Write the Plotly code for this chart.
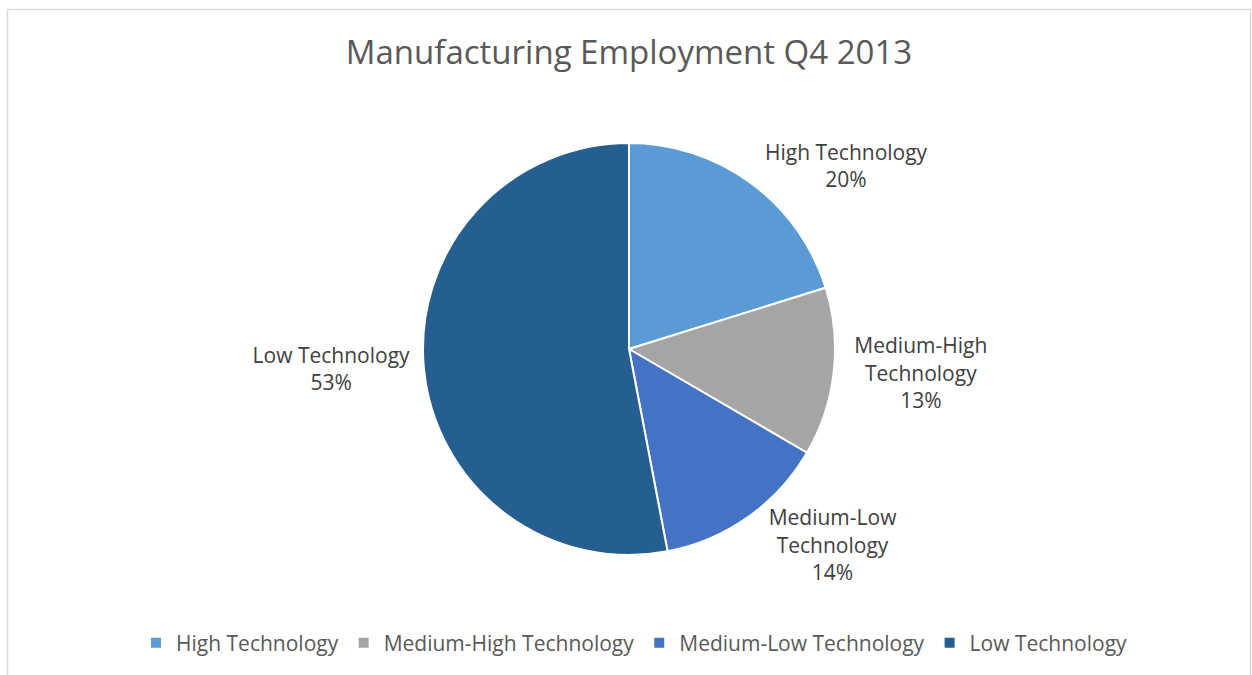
import plotly.graph_objects as go

categories = ["High Technology", "Medium-High Technology", "Medium-Low Technology", "Low Technology"]
slice_labels = ["High Technology", "Medium-High<br>Technology", "Medium-Low<br>Technology", "Low Technology"]
values = [20.2, 13.2, 13.6, 53.0]
colors = ["#5B9BD5", "#A5A5A5", "#4472C4", "#255E91"]

W, H = 1252, 675
cx, cy, r = 629, 349, 206

fig = go.Figure(go.Pie(
    labels=categories,
    values=values,
    customdata=slice_labels,
    sort=False,
    direction="clockwise",
    rotation=0,
    marker=dict(colors=colors, line=dict(color="white", width=2)),
    texttemplate="%{customdata}<br>%{percent:.0%}",
    textposition="outside",
    textfont=dict(family="Open Sans", size=21, color="#404040"),
    hoverinfo="label+percent",
    domain=dict(x=[(cx - r) / W, (cx + r) / W], y=[(H - cy - r) / H, (H - cy + r) / H]),
))

fig.update_layout(
    width=W, height=H,
    margin=dict(l=0, r=0, t=0, b=0),
    paper_bgcolor="white",
    plot_bgcolor="white",
    title=dict(text="Manufacturing Employment Q4 2013", x=cx / W, xanchor="center",
               y=1 - 52 / H, yanchor="middle", yref="container",
               font=dict(family="Open Sans", size=33, color="#595959")),
    legend=dict(orientation="h", x=634.5 / W, xanchor="center", y=(H - 643) / H, yanchor="middle",
                font=dict(family="Open Sans", size=21, color="#595959"),
                itemwidth=30, traceorder="normal"),
    shapes=[dict(type="rect", xref="paper", yref="paper",
                 x0=7.5 / W, x1=1250.5 / W, y0=-0.05, y1=1 - 9.5 / H,
                 line=dict(color="#D9D9D9", width=1.5), fillcolor="rgba(0,0,0,0)")],
)

fig.write_html("out.html", config={"displayModeBar": False},
               post_script="document.body.style.margin='0';")
